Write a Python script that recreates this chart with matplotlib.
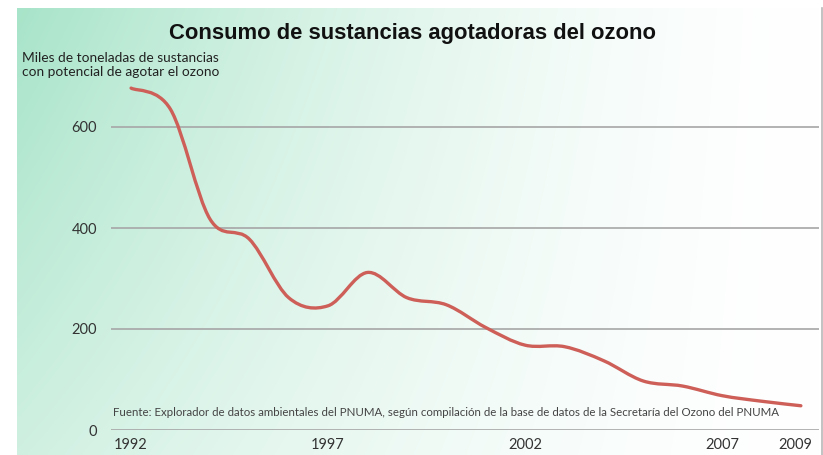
import numpy as np
import matplotlib
matplotlib.use("Agg")
import matplotlib.pyplot as plt
from matplotlib.path import Path
from matplotlib.patches import PathPatch
import matplotlib.transforms as mtransforms

# ---- data ----
years = [1992, 1993, 1994, 1995, 1996, 1997, 1998, 1999, 2000, 2001,
         2002, 2003, 2004, 2005, 2006, 2007, 2008, 2009]
consumo = [677, 635, 418, 378, 262, 246, 312, 262, 248, 203,
           168, 165, 137, 97, 87, 68, 57, 48]
yticks = [0, 200, 400, 600]
xticks = [1992, 1997, 2002, 2007, 2009]
xticklabels = ["1992", "1997", "2002", "2007", "2009"]

title = "Consumo de sustancias agotadoras del ozono"
ylabel = "Miles de toneladas de sustancias\ncon potencial de agotar el ozono"
fuente = ("Fuente: Explorador de datos ambientales del PNUMA, según compilación "
          "de la base de datos de la Secretaría del Ozono del PNUMA")

W, H = 823, 455
fig = plt.figure(figsize=(W / 100, H / 100), dpi=100)
fig.patch.set_facecolor("white")

# ---- background gradient panel ----
bg = fig.add_axes([0, 0, 1, 1], zorder=0)
bg.set_xlim(0, W)
bg.set_ylim(H, 0)
bg.axis("off")
px0, px1, py0, py1 = 17, 821, 8, 455
nx, ny = 200, 120
u = np.linspace(0, 1, nx)[None, :]
v = np.linspace(0, 1, ny)[:, None]
w = np.clip((1 - u) ** 1.6 * (1 - 0.45 * v), 0, 1)
green = np.array([168, 228, 201]) / 255.0
img = 1 - (1 - green)[None, None, :] * w[:, :, None]
bg.imshow(img, extent=[px0, px1, py1, py0], aspect="auto", interpolation="bilinear")
bg.plot([822, 822], [py0, py1], color="#b8b8b8", lw=1.2)

# ---- main axes ----
ax = fig.add_axes([111 / W, 1 - 430 / H, (819 - 111) / W, (430 - 76.5) / H], zorder=1)
ax.patch.set_alpha(0)
ax.set_xlim(1991.49, 2009.46)
ax.set_ylim(0, 700)
for s in ax.spines.values():
    s.set_visible(False)

for yv in yticks:
    ax.axhline(yv, color="#a6a6a6", lw=1.2, zorder=1)

font = "Lato"
ax.set_yticks(yticks)
ax.set_yticklabels([str(t) for t in yticks], fontsize=10.5, color="#333333", family=font)
ax.set_xticks(xticks)
ax.set_xticklabels(xticklabels, fontsize=10.5, color="#333333", family=font)
ax.tick_params(axis="y", length=0, pad=10)
ax.tick_params(axis="x", length=0, pad=6)
lbl = ax.get_xticklabels()[-1]
lbl.set_transform(lbl.get_transform() + mtransforms.ScaledTranslation(-6 / 100, 0, fig.dpi_scale_trans))

# smooth curve through yearly values (Catmull-Rom as cubic Bezier)
P = np.column_stack([years, consumo]).astype(float)
n = len(P)
verts = [P[0]]
codes = [Path.MOVETO]
for i in range(n - 1):
    p_prev = P[i - 1] if i > 0 else P[i]
    p_next2 = P[i + 2] if i + 2 < n else P[i + 1]
    c1 = P[i] + (P[i + 1] - p_prev) / 6.0
    c2 = P[i + 1] - (p_next2 - P[i]) / 6.0
    verts += [c1, c2, P[i + 1]]
    codes += [Path.CURVE4] * 3
ax.add_patch(PathPatch(Path(verts, codes), fill=False, edgecolor="#cd5f58",
                       lw=2.4, capstyle="round", joinstyle="round", zorder=3))

ax.text(1991.53, 34, fuente, fontsize=8.25, color="#444444", family=font,
        va="center", ha="left")

fig.text(412 / W, 1 - 33 / H, title, fontsize=15.8, fontweight="bold",
         family="Liberation Sans", ha="center", va="center", color="#111111")
fig.text(22 / W, 1 - 52 / H, ylabel, fontsize=9.9, family=font, ha="left", va="top",
         color="#222222", linespacing=1.15)

fig.savefig("out.png", dpi=100)
